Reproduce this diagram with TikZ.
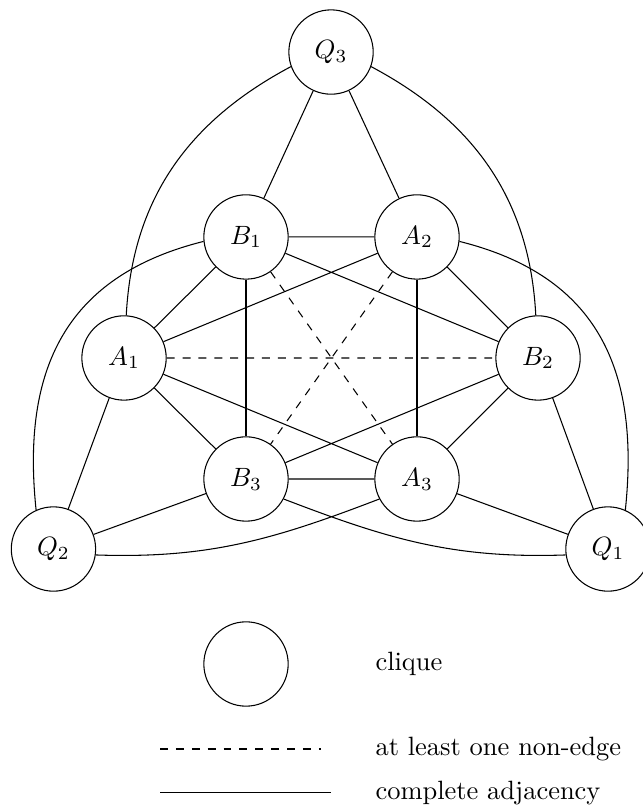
\documentclass[tikz,border=0pt]{standalone}
\usepackage{amsmath}
\usepackage{tikz}
\usetikzlibrary{positioning}
\tikzset{
    clique/.style = {circle,draw,minimum size=1.12cm,inner sep=0pt},
    nonedge/.style = {dashed},
    legendtext/.style = {anchor=west,inner sep=0pt}}
\begin{document}
\begin{tikzpicture}
    \useasboundingbox (0,0) rectangle (8.539,-10.757);
    \path (4.396,-0.691) node[clique] (Q3) {$Q_3$}
        ++ (-1.129,-2.456) node[clique] (B1) {$B_1$}
        + (2.271,0) node[clique] (A2) {$A_2$}
        ++ (-1.620,-1.607) node[clique] (A1) {$A_1$}
        + (5.498,0) node[clique] (B2) {$B_2$}
        ++ (1.620,-1.607) node[clique] (B3) {$B_3$}
        + (2.271,0) node[clique] (A3) {$A_3$}
        ++ (-2.557,-0.930) node[clique] (Q2) {$Q_2$}
        + (7.364,0) node[clique] (Q1) {$Q_1$};
    % hexagon and its diagonals
    \draw (B1) -- (A2) -- (B2) -- (A3) -- (B3) -- (A1) -- (B1);
    \draw (B1) -- (B3) (A2) -- (A3);
    \draw (A1) -- (A2) (A1) -- (A3) (B2) -- (B1) (B2) -- (B3);
    \draw[nonedge] (A1) -- (B2) (B1) -- (A3) (A2) -- (B3);
    % the outer cliques
    \draw (Q3) -- (B1) (Q3) -- (A2)
        (Q2) -- (A1) (Q2) -- (B3)
        (Q1) -- (B2) (Q1) -- (A3);
    \draw (Q3.200) to [out=208,in=87] (A1)
        (Q3.-20) to [out=-28,in=93] (B2);
    \draw (Q2.114) to [out=96,in=194,looseness=1.15] (B1.186)
        (Q1.66) to [out=84,in=-14,looseness=1.15] (A2.-6);
    \draw (Q2.-8) to [out=-2,in=201] (A3.208)
        (Q1.188) to [out=182,in=-21] (B3.-28);
    % legend
    \path (3.267,-8.818) node[clique] (legclique) {}
        ++ (1.713,0) node[legendtext] (legcliquetext) {clique}
        ++ (0,-1.129) node[legendtext] (legnonedgetext) {at least one non-edge}
        + (-0.717,0) coordinate (nonedgeR)
        + (-2.855,0) coordinate (nonedgeL)
        ++ (0,-0.583) node[legendtext] (legadjtext) {complete adjacency}
        + (-0.584,0) coordinate (adjR)
        + (-2.855,0) coordinate (adjL);
    \draw[nonedge] (nonedgeL) -- (nonedgeR);
    \draw (adjL) -- (adjR);
\end{tikzpicture}
\end{document}
